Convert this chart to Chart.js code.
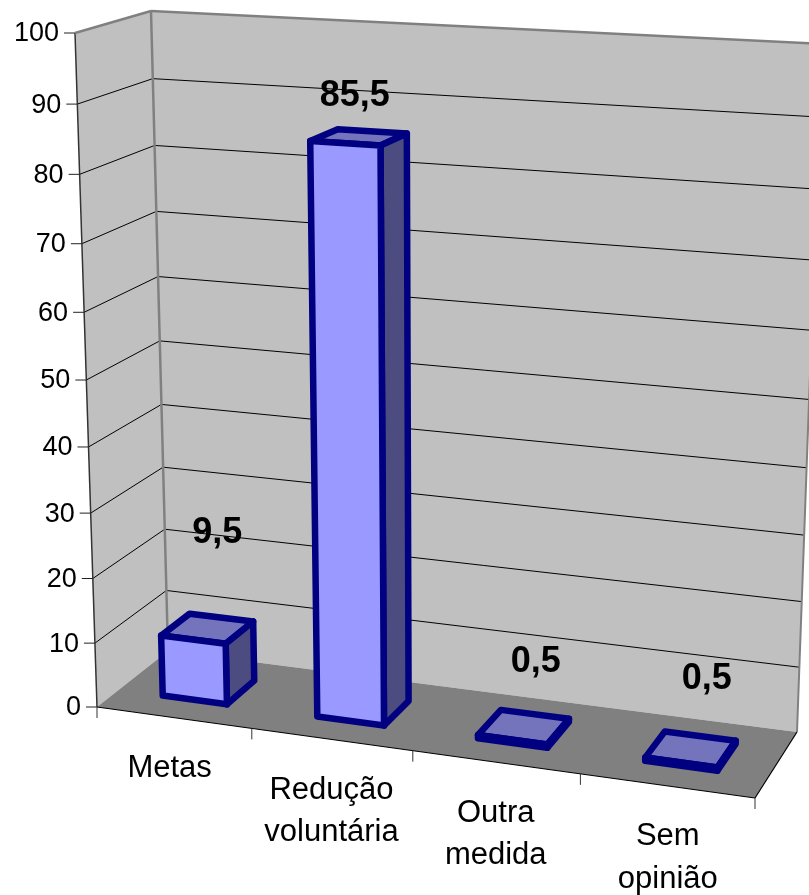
<!DOCTYPE html>
<html>
<head>
<meta charset="utf-8">
<style>html,body{margin:0;padding:0;background:#fff}canvas{display:block}</style>
<script src="https://cdn.jsdelivr.net/npm/chart.js@4"></script>
</head>
<body>
<canvas id="c" width="809" height="895"></canvas>
<script>
const categories = [["Metas"], ["Redução", "voluntária"], ["Outra", "medida"], ["Sem", "opinião"]];
const seriesValues = [9.5, 85.5, 0.5, 0.5];
const yTicks = [0, 10, 20, 30, 40, 50, 60, 70, 80, 90, 100];

/* perspective frame of the 3D box (style only, no data) */
const FRONT = [[97,707],[755,798],[775,70],[75,33]];   // bottom-left, bottom-right, top-right, top-left
const BACK  = [[168,651],[797,732],[822,44],[151,11]];
const BAR_T0 = 0.31, BAR_T1 = 0.72;
const LABEL_SHIFT = [[10,-96],[-4,-41],[12,-65],[16,-70]];
const CATEGORY_SHIFT = [-4,0,0,1];

function makeHomography(q){
  const [[x0,y0],[x1,y1],[x2,y2],[x3,y3]] = q;
  const dx1=x1-x2, dx2=x3-x2, sx=x0-x1+x2-x3, dy1=y1-y2, dy2=y3-y2, sy=y0-y1+y2-y3;
  const d=dx1*dy2-dx2*dy1;
  const g=(sx*dy2-dx2*sy)/d, h=(dx1*sy-sx*dy1)/d;
  const a=x1-x0+g*x1, b=x3-x0+h*x3, c=x0, e=y1-y0+g*y1, f=y3-y0+h*y3, i=y0;
  return (u,v)=>{const w=g*u+h*v+1;return [(a*u+b*v+c)/w,(e*u+f*v+i)/w];};
}
const HF = makeHomography(FRONT), HB = makeHomography(BACK);
function proj(u,v,t){const p=HF(u,v),q=HB(u,v);return [p[0]+(q[0]-p[0])*t,p[1]+(q[1]-p[1])*t];}

function poly(ctx,pts,fill,stroke,lw){
  ctx.beginPath();pts.forEach((p,i)=>i?ctx.lineTo(p[0],p[1]):ctx.moveTo(p[0],p[1]));ctx.closePath();
  if(fill){ctx.fillStyle=fill;ctx.fill();}
  if(stroke){ctx.strokeStyle=stroke;ctx.lineWidth=lw;ctx.lineJoin='round';ctx.stroke();}
}
function seg(ctx,a,b,color,lw){ctx.beginPath();ctx.moveTo(a[0],a[1]);ctx.lineTo(b[0],b[1]);ctx.strokeStyle=color;ctx.lineWidth=lw;ctx.lineCap='butt';ctx.stroke();}

const box3d = {
  id:'box3d',
  beforeDatasetsDraw(chart){
    const ctx=chart.ctx, ys=chart.scales.y;
    const V=val=>(ys.bottom-ys.getPixelForValue(val))/(ys.bottom-ys.top);
    ctx.save();
    poly(ctx,[proj(0,0,0),proj(0,1,0),proj(0,1,1),proj(0,0,1)],'#c0c0c0');
    poly(ctx,[proj(0,0,1),proj(0,1,1),proj(1,1,1),proj(1,0,1)],'#c0c0c0');
    poly(ctx,[proj(0,0,0),proj(1,0,0),proj(1,0,1),proj(0,0,1)],'#808080');
    ys.ticks.forEach(tk=>{
      const v=V(tk.value);
      if(tk.value>0&&tk.value<100){
        seg(ctx,proj(0,v,0),proj(0,v,1),'#000',1);
        seg(ctx,proj(0,v,1),proj(1,v,1),'#000',1);
      }
    });
    seg(ctx,proj(0,0,0),proj(0,1,0),'#333',1.5);
    seg(ctx,proj(0,0,1),proj(0,1,1),'#808080',2.5);
    seg(ctx,proj(1,0,1),proj(1,1,1),'#808080',2);
    seg(ctx,proj(0,1,0),proj(0,1,1),'#808080',2.5);
    seg(ctx,proj(0,1,1),proj(1,1,1),'#808080',2.5);
    seg(ctx,proj(0,0,0),proj(1,0,0),'#000',1.2);
    seg(ctx,proj(1,0,0),proj(1,0,1),'#000',1.2);
    ctx.restore();
  },
  beforeDatasetDraw(chart,args){
    const ctx=chart.ctx, a=chart.chartArea, ys=chart.scales.y, ds=chart.data.datasets[args.index];
    const meta=chart.getDatasetMeta(args.index);
    ctx.save();
    meta.data.forEach(el=>{
      const u0=(el.x-el.width/2-a.left)/(a.right-a.left), u1=(el.x+el.width/2-a.left)/(a.right-a.left);
      const v0=(ys.bottom-el.base)/(ys.bottom-ys.top), v1=(ys.bottom-el.y)/(ys.bottom-ys.top);
      const P=(u,v,t)=>proj(u,v,t), s=ds.borderColor, lw=ds.borderWidth;
      poly(ctx,[P(u0,v1,BAR_T1),P(u1,v1,BAR_T1),P(u1,v1,BAR_T0),P(u0,v1,BAR_T0)],'#7474bd',s,lw);
      poly(ctx,[P(u1,v0,BAR_T0),P(u1,v1,BAR_T0),P(u1,v1,BAR_T1),P(u1,v0,BAR_T1)],'#4c4c80',s,lw);
      poly(ctx,[P(u0,v0,BAR_T0),P(u1,v0,BAR_T0),P(u1,v1,BAR_T0),P(u0,v1,BAR_T0)],ds.backgroundColor,s,lw);
    });
    ctx.restore();
    return false;
  },
  afterDraw(chart){
    const ctx=chart.ctx, a=chart.chartArea, xs=chart.scales.x, ys=chart.scales.y;
    const V=val=>(ys.bottom-ys.getPixelForValue(val))/(ys.bottom-ys.top);
    const U=px=>(px-a.left)/(a.right-a.left);
    ctx.save();
    ctx.fillStyle='#000';
    // value axis
    ctx.font='27px "Liberation Sans", Arial, sans-serif';
    ctx.textAlign='right';ctx.textBaseline='middle';
    ys.ticks.forEach(tk=>{
      const p=proj(0,V(tk.value),0);
      seg(ctx,[p[0]-11,p[1]],p,'#222',1);
      ctx.fillStyle='#000';
      ctx.fillText(String(tk.value),p[0]-16,p[1]+1);
    });
    // category axis
    for(let i=0;i<=categories.length;i++){
      const p=proj(i/categories.length,0,0);
      seg(ctx,p,[p[0],p[1]+11],'#333',1);
    }
    ctx.font='31px "Liberation Sans", Arial, sans-serif';
    ctx.textAlign='center';ctx.fillStyle='#000';
    chart.data.labels.forEach((lab,i)=>{
      const p=proj(U(xs.getPixelForValue(i)),0,0);
      lab.forEach((ln,k)=>ctx.fillText(ln,p[0]+CATEGORY_SHIFT[i],p[1]+51+k*42.5));
    });
    // value labels
    ctx.font='bold 36px "Liberation Sans", Arial, sans-serif';
    const meta=chart.getDatasetMeta(0);
    meta.data.forEach((el,i)=>{
      const p=proj(U(el.x),(ys.bottom-el.y)/(ys.bottom-ys.top),(BAR_T0+BAR_T1)/2);
      const txt=seriesValues[i].toFixed(1).replace('.',',');
      ctx.fillText(txt,p[0]+LABEL_SHIFT[i][0],p[1]+LABEL_SHIFT[i][1]);
    });
    ctx.restore();
  }
};

new Chart(document.getElementById('c'),{
  type:'bar',
  data:{labels:categories,datasets:[{label:'Série',data:seriesValues,backgroundColor:'#9999ff',borderColor:'#000080',borderWidth:6.5,barPercentage:0.42,categoryPercentage:1}]},
  options:{
    responsive:false,animation:false,
    plugins:{legend:{display:false},tooltip:{enabled:false}},
    scales:{
      x:{display:false},
      y:{display:false,min:0,max:100,ticks:{stepSize:10},afterBuildTicks(s){s.ticks=yTicks.map(v=>({value:v}));}}
    }
  },
  plugins:[box3d]
});
</script>
</body>
</html>
